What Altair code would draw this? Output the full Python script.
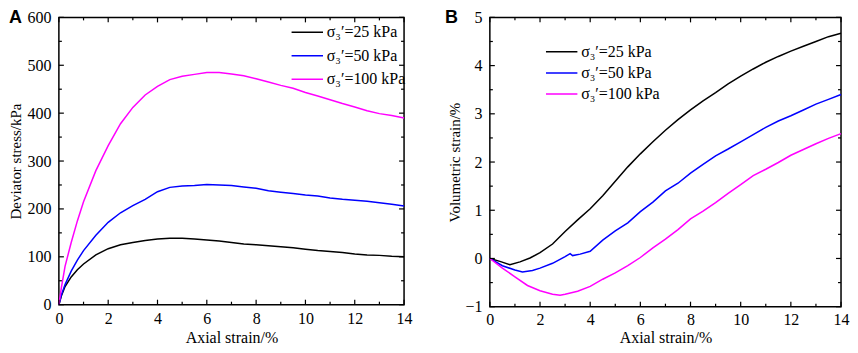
import altair as alt
import pandas as pd

# ---------------- data ----------------
series_labels = ["σ₃′=25 kPa", "σ₃′=50 kPa", "σ₃′=100 kPa"]
series_colors = ["#000000", "#0000ff", "#ff00ff"]

# Panel A: deviator stress (kPa) vs axial strain (%)
a_strain = [0, 0.1, 0.25, 0.5, 0.75, 1, 1.5, 2, 2.5, 3, 3.5, 4, 4.5, 5, 5.5, 6, 6.5,
            7, 7.5, 8, 8.5, 9, 9.5, 10, 10.5, 11, 11.5, 12, 12.5, 13, 13.5, 14]
a_q25 = [0, 18, 38, 58, 73, 85, 104, 117, 125, 130, 134, 137, 139, 139, 137, 135, 133,
         130, 127, 125, 123, 121, 119, 116, 113, 111, 109, 106, 104, 103, 101, 100]
a_q50 = [0, 20, 42, 70, 93, 113, 145, 172, 192, 207, 220, 236, 245, 248, 249, 251, 250,
         249, 246, 243, 238, 235, 232, 229, 227, 223, 220, 218, 216, 213, 210, 206]
a_q100 = [0, 35, 80, 130, 175, 215, 280, 332, 378, 412, 438, 456, 470, 477, 481, 485, 485,
          482, 478, 472, 465, 458, 452, 443, 436, 428, 420, 413, 405, 399, 395, 390]

# Panel B: volumetric strain (%) vs axial strain (%)
b25_strain = [0, 0.4, 0.8, 1.2, 1.6, 2, 2.5, 3, 3.5, 4, 4.5, 5, 5.5, 6, 6.5, 7, 7.5, 8,
              8.5, 9, 9.5, 10, 10.5, 11, 11.5, 12, 12.5, 13, 13.5, 14]
b25_vol = [0, -0.06, -0.13, -0.07, 0.01, 0.12, 0.3, 0.56, 0.8, 1.03, 1.3, 1.6, 1.9, 2.17,
           2.42, 2.66, 2.88, 3.08, 3.27, 3.44, 3.62, 3.78, 3.93, 4.07, 4.19, 4.3, 4.4, 4.5,
           4.6, 4.67]
b50_strain = [0, 0.5, 1, 1.3, 1.7, 2, 2.5, 3, 3.2, 3.3, 3.6, 4, 4.5, 5, 5.5, 6, 6.5, 7,
              7.5, 8, 8.5, 9, 9.5, 10, 10.5, 11, 11.5, 12, 12.5, 13, 13.5, 14]
b50_vol = [0, -0.15, -0.24, -0.28, -0.25, -0.2, -0.1, 0.04, 0.1, 0.06, 0.09, 0.15, 0.38,
           0.57, 0.74, 0.97, 1.17, 1.4, 1.56, 1.77, 1.95, 2.13, 2.27, 2.42, 2.57, 2.72,
           2.85, 2.96, 3.08, 3.2, 3.3, 3.4]
b100_strain = [0, 0.5, 1, 1.5, 2, 2.5, 2.8, 3, 3.5, 4, 4.5, 5, 5.5, 6, 6.5, 7, 7.5, 8,
               8.5, 9, 9.5, 10, 10.5, 11, 11.5, 12, 12.5, 13, 13.5, 14]
b100_vol = [0, -0.2, -0.38, -0.56, -0.67, -0.74, -0.76, -0.74, -0.68, -0.58, -0.43, -0.3,
            -0.15, 0.02, 0.22, 0.4, 0.6, 0.82, 0.98, 1.16, 1.35, 1.53, 1.72, 1.85, 1.99,
            2.14, 2.26, 2.38, 2.49, 2.59]

x_major = [0, 2, 4, 6, 8, 10, 12, 14]
x_minor = [1, 3, 5, 7, 9, 11, 13]
a_y_major = [0, 100, 200, 300, 400, 500, 600]
a_y_minor = [50, 150, 250, 350, 450, 550]
b_y_major = [-1, 0, 1, 2, 3, 4, 5]
b_y_minor = [-0.5, 0.5, 1.5, 2.5, 3.5, 4.5]


def long_table(pairs):
    rows = []
    for label, xs, ys in pairs:
        for i, (xv, yv) in enumerate(zip(xs, ys)):
            rows.append({"series": label, "strain": xv, "val": yv, "idx": i})
    return pd.DataFrame(rows)


df_a = long_table([(series_labels[0], a_strain, a_q25),
                   (series_labels[1], a_strain, a_q50),
                   (series_labels[2], a_strain, a_q100)])
df_b = long_table([(series_labels[0], b25_strain, b25_vol),
                   (series_labels[1], b50_strain, b50_vol),
                   (series_labels[2], b100_strain, b100_vol)])

FONT = "Liberation Serif"


def panel(df, ydom, ymaj, ymin, W, H, ytitle, letter, letter_x, lx, ly, rowpad,
          lpad_x, tpad_x, lpad_y, tpad_y):
    xs = alt.Scale(domain=[0, 14], nice=False, zero=False)
    ys = alt.Scale(domain=ydom, nice=False, zero=False)
    xaxis = alt.Axis(values=x_major, title="Axial strain/%", ticks=False,
                     domain=False, grid=False, labelPadding=lpad_x,
                     titlePadding=tpad_x, labelFlush=False)
    yaxis = alt.Axis(values=ymaj, title=ytitle, ticks=False, domain=False,
                     grid=False, labelPadding=lpad_y, titlePadding=tpad_y,
                     labelFlush=False, titleFontSize=15)
    lines = alt.Chart(df).mark_line(strokeWidth=1.5).encode(
        x=alt.X("strain:Q", scale=xs, axis=xaxis),
        y=alt.Y("val:Q", scale=ys, axis=yaxis),
        color=alt.Color("series:N",
                        scale=alt.Scale(domain=series_labels, range=series_colors),
                        legend=alt.Legend(title=None, orient="none", legendX=lx,
                                          legendY=ly, symbolType="M-1.5,0H1.5",
                                          symbolSize=441, symbolStrokeWidth=1.5,
                                          rowPadding=rowpad, labelOffset=8,
                                          padding=0)),
        order="idx:Q",
    )

    def xticks(vals, ln):
        d = pd.DataFrame({"strain": vals})
        bot = alt.Chart(d).mark_rule(color="black", strokeWidth=1.2).encode(
            x=alt.X("strain:Q", scale=xs, axis=xaxis),
            y=alt.value(H), y2=alt.value(H - ln))
        top = alt.Chart(d).mark_rule(color="black", strokeWidth=1.2).encode(
            x=alt.X("strain:Q", scale=xs, axis=xaxis),
            y=alt.value(0), y2=alt.value(ln))
        return [bot, top]

    def yticks(vals, ln):
        d = pd.DataFrame({"val": vals})
        left = alt.Chart(d).mark_rule(color="black", strokeWidth=1.2).encode(
            y=alt.Y("val:Q", scale=ys, axis=yaxis),
            x=alt.value(0), x2=alt.value(ln))
        right = alt.Chart(d).mark_rule(color="black", strokeWidth=1.2).encode(
            y=alt.Y("val:Q", scale=ys, axis=yaxis),
            x=alt.value(W), x2=alt.value(W - ln))
        return [left, right]

    lab = alt.Chart(pd.DataFrame({"t": [letter]})).mark_text(
        font="Liberation Sans", fontWeight="bold", fontSize=18, align="left",
        baseline="top", color="black").encode(
        text="t:N", x=alt.value(letter_x), y=alt.value(-8))

    layers = [lines] + xticks(x_major, 5) + xticks(x_minor, 3) + \
        yticks(ymaj, 5) + yticks(ymin, 3) + [lab]
    return alt.layer(*layers).properties(width=W, height=H)


pa = panel(df_a, [0, 600], a_y_major, a_y_minor, 346, 288,
           "Deviator stress/kPa", "A", -50, 237.5, 3.5, 3.5,
           6, 3, 8, 3)
pb = panel(df_b, [-1, 5], b_y_major, b_y_minor, 352, 290,
           "Volumetric strain/%", "B", -45, 60.5, 23, 1.2,
           5, 2, 8, 2)

chart = alt.hconcat(pa, pb, spacing=31).resolve_scale(
    x="independent", y="independent", color="independent"
).resolve_legend(color="independent").properties(
    padding={"left": 0, "top": 0, "right": 0, "bottom": 0}
).configure_view(stroke="black", strokeWidth=1.5).configure_axis(
    labelFont=FONT, titleFont=FONT, labelFontSize=16, titleFontSize=16,
    titleFontWeight="normal", labelColor="black", titleColor="black"
).configure_legend(labelFont=FONT, labelFontSize=16, labelColor="black")

chart.save("out.html", embed_options={"renderer": "svg", "actions": False})
